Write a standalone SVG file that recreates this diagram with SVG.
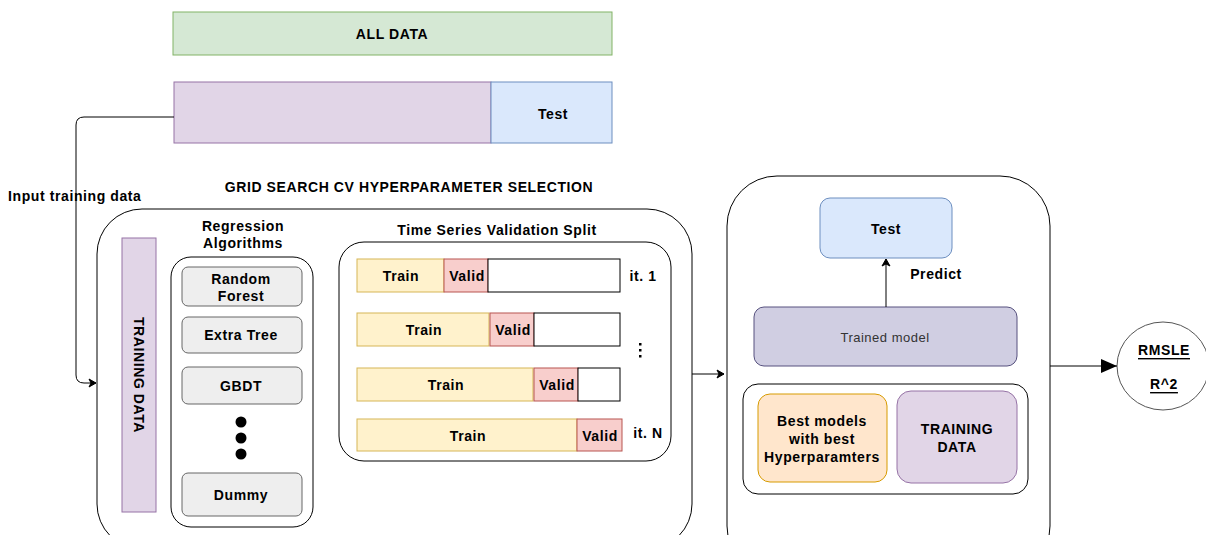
<svg xmlns="http://www.w3.org/2000/svg" width="1206" height="535" viewBox="0 0 1206 535">
  <defs>
    <marker id="arrow-open" markerWidth="10" markerHeight="10" refX="8" refY="5" orient="auto" markerUnits="userSpaceOnUse">
      <path d="M1,1 L8,5 L1,9 L3,5 Z" fill="#000" stroke="#000" stroke-width="1"/>
    </marker>
    <marker id="arrow-block" markerWidth="18" markerHeight="16" refX="17" refY="8" orient="auto" markerUnits="userSpaceOnUse">
      <path d="M1,1 L17,8 L1,15 Z" fill="#000"/>
    </marker>
    <style>
      text { font-family: "Liberation Sans", Arial, Helvetica, sans-serif; font-weight: bold; fill: #000; }
      .c { text-anchor: middle; dominant-baseline: central; }
      .lbl { font-size: 14px; letter-spacing: 0.6px; }
      .green { fill: #d5e8d4; stroke: #82b366; stroke-width: 1; }
      .purple { fill: #e1d5e7; stroke: #9673a6; stroke-width: 1; }
      .blue { fill: #dae8fc; stroke: #6c8ebf; stroke-width: 1; }
      .train { fill: #fff2cc; stroke: #d6b656; stroke-width: 1; }
      .valid { fill: #f8cecc; stroke: #b85450; stroke-width: 1; }
      .rest { fill: #ffffff; stroke: #000; stroke-width: 1; }
      .algo { fill: #eeeeee; stroke: #666666; stroke-width: 1; }
      .frame { fill: none; stroke: #000; stroke-width: 1; }
      .edge { fill: none; stroke: #000; stroke-width: 1; }
    </style>
  </defs>

  <rect width="1206" height="535" fill="#ffffff"/>

  <!-- data split -->
  <g id="all-data">
    <rect class="green" x="173" y="12" width="439" height="43"/>
    <text class="c lbl" x="392" y="34">ALL DATA</text>
  </g>
  <g id="train-part">
    <rect class="purple" x="174" y="82" width="317" height="61"/>
  </g>
  <g id="test-part">
    <rect class="blue" x="491" y="82" width="121" height="61"/>
    <text class="c lbl" x="553" y="114">Test</text>
  </g>

  <!-- grid search panel -->
  <text class="c lbl" x="409" y="187">GRID SEARCH CV HYPERPARAMETER SELECTION</text>
  <g id="grid-search">
    <rect class="frame" x="97" y="209" width="595" height="340" rx="45"/>
  </g>

  <g id="training-data-vertical">
    <rect class="purple" x="122" y="238" width="34" height="274"/>
    <text class="c lbl" transform="translate(139 375) rotate(90)">TRAINING DATA</text>
  </g>

  <!-- regression algorithms -->
  <g id="algorithms">
    <text class="c lbl" x="243" y="226">Regression</text>
    <text class="c lbl" x="243" y="243">Algorithms</text>
    <rect class="frame" x="171" y="257" width="142" height="270" rx="20"/>
  </g>
  <g id="algo-rf">
    <rect class="algo" x="182" y="267" width="120" height="39" rx="6"/>
    <text class="c lbl" x="241" y="279">Random</text>
    <text class="c lbl" x="241" y="296">Forest</text>
  </g>
  <g id="algo-et">
    <rect class="algo" x="182" y="317" width="120" height="36" rx="6"/>
    <text class="c lbl" x="241" y="335">Extra Tree</text>
  </g>
  <g id="algo-gbdt">
    <rect class="algo" x="182" y="367" width="120" height="37" rx="6"/>
    <text class="c lbl" x="241" y="386">GBDT</text>
  </g>
  <g id="algo-more">
    <circle cx="241" cy="422" r="5.5" fill="#000"/>
    <circle cx="241" cy="438" r="5.5" fill="#000"/>
    <circle cx="241" cy="454" r="5.5" fill="#000"/>
  </g>
  <g id="algo-dummy">
    <rect class="algo" x="182" y="473" width="120" height="43" rx="6"/>
    <text class="c lbl" x="241" y="495">Dummy</text>
  </g>

  <!-- time series split -->
  <g id="ts-split">
    <text class="c lbl" x="497" y="230">Time Series Validation Split</text>
    <rect class="frame" x="339" y="242" width="332" height="219" rx="25"/>
  </g>
  <g id="ts-row-1">
    <rect class="train" x="357" y="259" width="87" height="33"/>
    <rect class="valid" x="444" y="259" width="44" height="33"/>
    <rect class="rest" x="488" y="259" width="132" height="33"/>
    <text class="c lbl" x="401" y="276">Train</text>
    <text class="c lbl" x="467" y="276">Valid</text>
    <text class="c lbl" x="643" y="276">it. 1</text>
  </g>
  <g id="ts-row-2">
    <rect class="train" x="357" y="313" width="132" height="33"/>
    <rect class="valid" x="490" y="313" width="44" height="33"/>
    <rect class="rest" x="534" y="313" width="86" height="33"/>
    <text class="c lbl" x="424" y="330">Train</text>
    <text class="c lbl" x="513" y="330">Valid</text>
    <rect x="639" y="343" width="2.5" height="2.5" fill="#000"/>
    <rect x="639" y="349" width="2.5" height="2.5" fill="#000"/>
    <rect x="639" y="355" width="2.5" height="2.5" fill="#000"/>
  </g>
  <g id="ts-row-3">
    <rect class="train" x="357" y="368" width="176" height="33"/>
    <rect class="valid" x="534" y="368" width="44" height="33"/>
    <rect class="rest" x="578" y="368" width="42" height="33"/>
    <text class="c lbl" x="446" y="385">Train</text>
    <text class="c lbl" x="557" y="385">Valid</text>
  </g>
  <g id="ts-row-4">
    <rect class="train" x="357" y="419" width="220" height="32"/>
    <rect class="valid" x="577" y="419" width="45" height="32"/>
    <text class="c lbl" x="468" y="436">Train</text>
    <text class="c lbl" x="600" y="436">Valid</text>
    <text class="c lbl" x="648" y="433">it. N</text>
  </g>

  <!-- final model panel -->
  <g id="final-model">
    <rect class="frame" x="727" y="176" width="323" height="400" rx="50"/>
  </g>
  <g id="test-box">
    <rect class="blue" x="820" y="198" width="132" height="60" rx="10"/>
    <text class="c lbl" x="886" y="229">Test</text>
  </g>
  <g id="trained-model">
    <rect x="754" y="307" width="263" height="59" rx="10" fill="#d0cee2" stroke="#56517e" stroke-width="1"/>
    <text class="c" x="885" y="337" style="font-size:13px;letter-spacing:0.5px;font-weight:normal;fill:#333333">Trained model</text>
  </g>
  <g id="model-inputs">
    <rect class="frame" x="743" y="384" width="285" height="110" rx="15"/>
  </g>
  <g id="best-models">
    <rect x="758" y="394" width="129" height="88" rx="12" fill="#ffe6cc" stroke="#d79b00" stroke-width="1"/>
    <text class="c lbl" x="822" y="421">Best models</text>
    <text class="c lbl" x="822" y="439">with best</text>
    <text class="c lbl" x="822" y="457">Hyperparamters</text>
  </g>
  <g id="training-data-box">
    <rect class="purple" x="897" y="391" width="120" height="92" rx="14"/>
    <text class="c lbl" x="957" y="429">TRAINING</text>
    <text class="c lbl" x="957" y="447">DATA</text>
  </g>

  <g id="metrics">
    <ellipse cx="1163" cy="366" rx="46" ry="44" fill="#ffffff" stroke="#555" stroke-width="1"/>
    <text class="c lbl" x="1164" y="350" text-decoration="underline">RMSLE</text>
    <text class="c lbl" x="1164" y="384" text-decoration="underline">R^2</text>
  </g>

  <!-- connectors -->
  <g id="connectors">
    <path class="edge" d="M174,117 H84 Q76,117 76,125 V375 Q76,383 84,383 H96" marker-end="url(#arrow-open)" stroke="#333"/>
    <text x="8" y="201" class="lbl">Input training data</text>
    <path class="edge" d="M692,374 H724" marker-end="url(#arrow-open)"/>
    <path class="edge" d="M886,307 V259" marker-end="url(#arrow-open)"/>
    <text class="c lbl" x="936" y="274">Predict</text>
    <path class="edge" d="M1050,366 H1117" marker-end="url(#arrow-block)"/>
  </g>
</svg>
